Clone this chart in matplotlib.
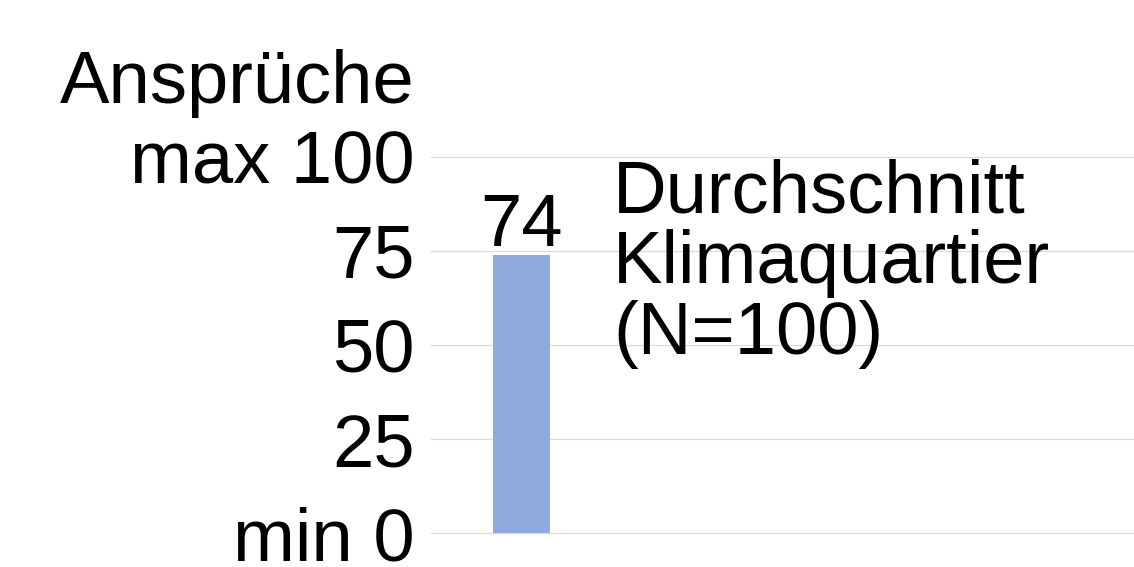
import matplotlib
matplotlib.use("Agg")
import matplotlib.pyplot as plt

# Data
categories = ["Durchschnitt\nKlimaquartier\n(N=100)"]
values = [74]
ytick_values = [0, 25, 50, 75, 100]
ytick_labels = ["min 0", "25", "50", "75", "max 100"]
axis_title = "Ansprüche"

plt.rcParams['font.family'] = ['Liberation Sans', 'DejaVu Sans']
FS = 53.5

fig = plt.figure(figsize=(11.34, 5.67), dpi=100)
ax = fig.add_axes([431/1134, 33.7/567, 703/1134, (533.3-156.7)/567])

bar_color = "#8FAADC"
width = 0.6
xs = list(range(len(values)))
ax.bar(xs, values, width=width, color=bar_color, zorder=2)

ax.set_ylim(0, 100)
ax.set_xlim(-0.955, 6.445)
ax.set_yticks(ytick_values)
ax.set_yticklabels(ytick_labels, fontsize=FS)
ax.tick_params(axis='y', length=0, pad=11.5)
ax.set_xticks([])
for s in ax.spines.values():
    s.set_visible(False)
ax.yaxis.grid(True, color="#d9ddd6", linewidth=0.9, zorder=0)
for gl in ax.get_ygridlines():
    gl.set_clip_on(False)
ax.set_axisbelow(True)

# value label
for x, v in zip(xs, values):
    ax.annotate(f"{v}", xy=(x, v), xytext=(0, 6.5), textcoords="offset points",
                ha="center", va="baseline", fontsize=FS)

# category label to the right of bar
for x, c in zip(xs, categories):
    ax.text(x + 0.961, 47.6, c, ha="left", va="baseline", fontsize=FS,
            linespacing=1.03)

# axis title above top tick label
ax.annotate(axis_title, xy=(0, 100), xycoords=("axes fraction", "data"),
            xytext=(-11.5, 38.4), textcoords="offset points",
            ha="right", va="baseline", fontsize=FS, annotation_clip=False)

fig.savefig("out.png", dpi=100, facecolor="white")
